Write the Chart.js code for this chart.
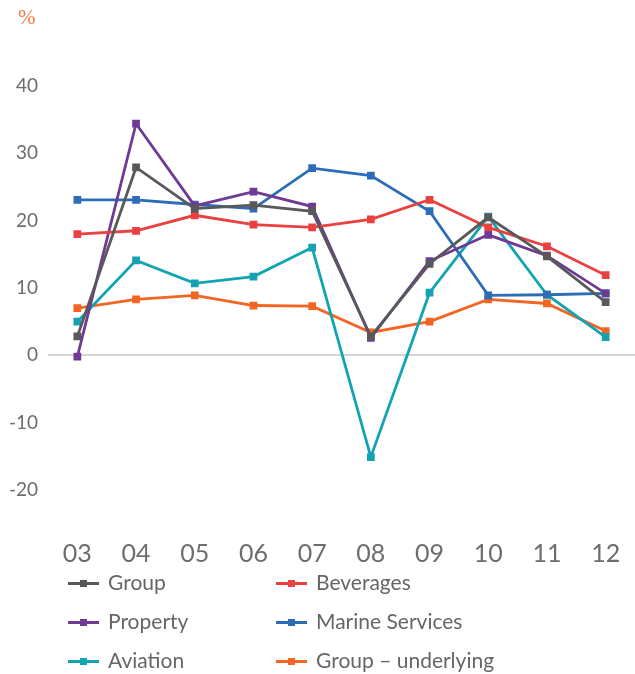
<!DOCTYPE html>
<html>
<head>
<meta charset="utf-8">
<script src="https://cdn.jsdelivr.net/npm/chart.js@4"></script>
<style>
    body { margin: 0; background: #fff; }
    #wrap { position: relative; width: 635px; height: 674px; }
    #unit { position: absolute; left: 18px; top: 5px; font: 21px "Liberation Serif", serif; color: #f47b3e; }
    #legend { position: absolute; left: 0; top: 562px; width: 635px; }
    .item { position: absolute; height: 39px; font: 21px Lato, sans-serif; color: #666; }
    .swatch { position: absolute; top: 20px; width: 31px; height: 3px; }
    .swatch i { position: absolute; left: 12px; top: -2px; width: 7px; height: 7px; }
    .item span { position: absolute; left: 40px; top: 7px; white-space: nowrap; }
</style>
</head>
<body>
<div id="wrap">
    <canvas id="profitChart" width="635" height="575"></canvas>
    <div id="unit">%</div>
    <div id="legend"></div>
</div>
<script>

    const years = ["03", "04", "05", "06", "07", "08", "09", "10", "11", "12"];

    const group = [2.8, 27.9, 21.8, 22.3, 21.4, 2.8, 13.6, 20.5, 14.7, 7.9];
    const beverages = [18.0, 18.5, 20.8, 19.4, 19.0, 20.2, 23.1, 19.0, 16.2, 11.9];
    const property = [-0.2, 34.4, 22.2, 24.3, 22.1, 2.6, 14.0, 17.9, 14.8, 9.2];
    const marine = [23.1, 23.1, 22.4, 21.8, 27.8, 26.7, 21.4, 8.9, 9.0, 9.2];
    const aviation = [5.0, 14.1, 10.7, 11.7, 16.0, -15.1, 9.3, 20.6, 9.0, 2.7];
    const underlying = [7.0, 8.3, 8.9, 7.4, 7.3, 3.4, 5.0, 8.3, 7.7, 3.6];

    const yTicks = [-20, -10, 0, 10, 20, 30, 40];

    function line(label, data, color) {
        return {
            label: label,
            data: data,
            borderColor: color,
            backgroundColor: color,
            borderWidth: 2.8,
            pointStyle: "rect",
            pointRadius: 3.5,
            pointHoverRadius: 3.5,
            tension: 0
        };
    }

    const chart = new Chart(document.getElementById("profitChart"), {
        type: "line",
        data: {
            labels: years,
            datasets: [
                line("Group", group, "#59595b"),
                line("Beverages", beverages, "#e8413f"),
                line("Property", property, "#6e3a96"),
                line("Marine Services", marine, "#2b6db6"),
                line("Aviation", aviation, "#13a3b3"),
                line("Group \u2013 underlying", underlying, "#f26522")
            ]
        },
        options: {
            responsive: false,
            animation: false,
            layout: { autoPadding: false, padding: { top: 86, right: 0, left: 0, bottom: 0 } },
            plugins: {
                legend: { display: false },
                tooltip: { enabled: false }
            },
            scales: {
                x: {
                    offset: true,
                    grid: { color: "transparent", drawOnChartArea: false, tickLength: 49 },
                    border: { display: false },
                    ticks: {
                        font: { family: "Lato", size: 25 },
                        color: "#6d6d6d",
                        padding: 0,
                        maxRotation: 0
                    },
                    afterFit: function (s) { s.height = 85; }
                },
                y: {
                    min: -20,
                    max: 40,
                    afterBuildTicks: function (s) { s.ticks = yTicks.map(v => ({ value: v })); },
                    grid: {
                        drawTicks: false,
                        lineWidth: 2,
                        color: ctx => ctx.tick && ctx.tick.value === 0 ? "#d4d4d4" : "transparent"
                    },
                    border: { display: false },
                    ticks: {
                        font: { family: "Lato", size: 19 },
                        color: "#6d6d6d",
                        padding: 10
                    },
                    afterFit: function (s) { s.width = 48; }
                }
            }
        }
    });

    // legend in two columns, like the original
    const legend = document.getElementById("legend");
    chart.data.datasets.forEach(function (ds, i) {
        const col = i % 2, row = Math.floor(i / 2);
        const item = document.createElement("div");
        item.className = "item";
        item.style.left = (col ? 276 : 68) + "px";
        item.style.top = (row * 39) + "px";
        item.innerHTML = '<div class="swatch" style="background:' + ds.borderColor +
            '"><i style="background:' + ds.borderColor + '"></i></div><span>' + ds.label + '</span>';
        legend.appendChild(item);
    });

</script>
</body>
</html>
